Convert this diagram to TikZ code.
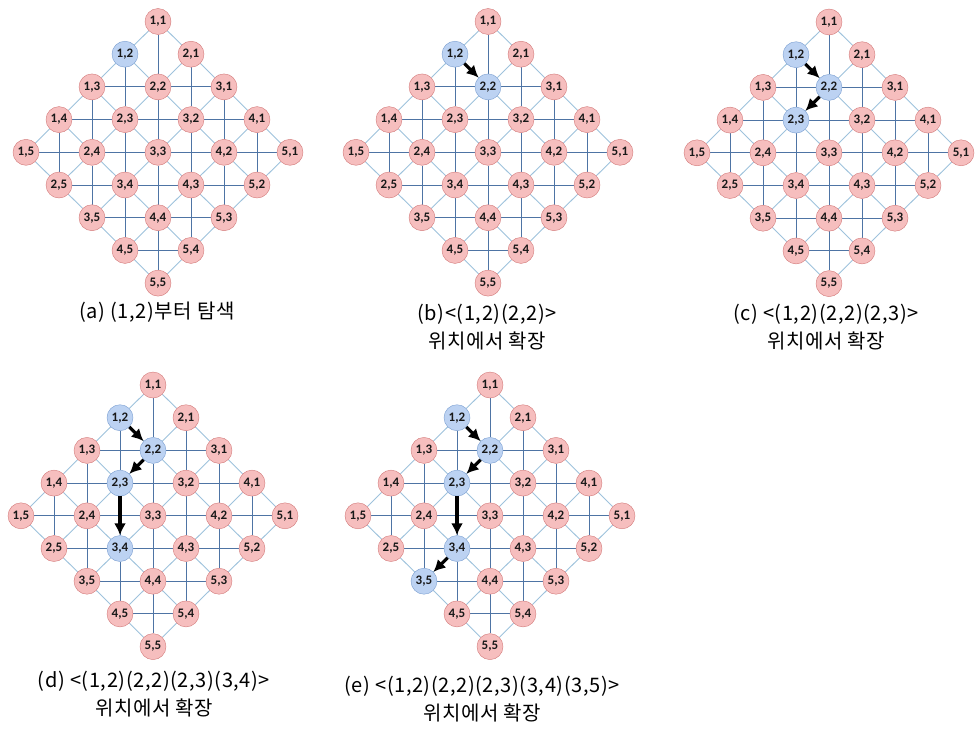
\documentclass[tikz,border=0pt]{standalone}
\usepackage{fontspec}
\setmainfont{Carlito}
\newfontfamily\korfont[LetterSpace=3]{Noto Sans CJK KR}
\usepackage{tikz}
\usetikzlibrary{arrows.meta,backgrounds}
\definecolor{cellpink}{RGB}{246,190,190}
\definecolor{cellrim}{RGB}{210,120,120}
\definecolor{seenblue}{RGB}{188,210,242}
\definecolor{seenrim}{RGB}{122,158,208}
\definecolor{gridlight}{RGB}{158,194,220}
\definecolor{griddark}{RGB}{78,116,164}
\tikzset{
  cell/.style={circle,draw=cellrim,fill=cellpink,minimum size=26pt,inner sep=0pt,
    font=\bfseries\fontsize{13}{13}\selectfont,text=black!90},
  visited/.style={draw=seenrim,fill=seenblue},
  diagedge/.style={draw=gridlight,line width=0.9pt},
  axisedge/.style={draw=griddark,line width=1pt},
  pathstep/.style={-{Latex[length=12pt,width=12pt]},line width=3.2pt,draw=black},
  caption/.style={font=\korfont\fontsize{20}{28}\selectfont,align=center}
}
% one 5x5 board turned by 45 degrees: prefix, centre x, top y
\newcommand{\diamondgrid}[3]{%
  \foreach \i in {1,...,5}{
    \foreach \j in {1,...,5}{
      \node[cell,visit #1\i\j/.try] (#1\i\j)
        at ({#2+(\i-\j)*33},{#3+(\i+\j-2)*32.7}) {\i,\j};
    }
  }
  \begin{pgfonlayer}{background}
    \foreach \i in {1,...,4}{
      \pgfmathtruncatemacro{\ni}{\i+1}
      \foreach \j in {1,...,5}{
        \draw[diagedge] (#1\i\j) -- (#1\ni\j);
        \draw[diagedge] (#1\j\i) -- (#1\j\ni);
      }
      \foreach \j in {1,...,4}{
        \pgfmathtruncatemacro{\nj}{\j+1}
        \draw[axisedge] (#1\i\j) -- (#1\ni\nj);
      }
      \foreach \j in {2,...,5}{
        \pgfmathtruncatemacro{\pj}{\j-1}
        \pgfmathtruncatemacro{\rowsum}{\i+\j}
        \ifnum\rowsum>3
          \draw[axisedge] (#1\i\j) -- (#1\ni\pj);
        \fi
      }
    }
  \end{pgfonlayer}
}

\begin{document}
\begin{tikzpicture}[x=1pt,y=-1pt]
  \useasboundingbox (0,0) rectangle (976,731);
  \tikzset{visit a12/.style=visited,
    visit b12/.style=visited, visit b22/.style=visited,
    visit c12/.style=visited, visit c22/.style=visited, visit c23/.style=visited,
    visit d12/.style=visited, visit d22/.style=visited, visit d23/.style=visited,
    visit d34/.style=visited,
    visit e12/.style=visited, visit e22/.style=visited, visit e23/.style=visited,
    visit e34/.style=visited, visit e35/.style=visited}

  \diamondgrid{a}{158}{21.5}
  \diamondgrid{b}{488}{21.5}
  \diamondgrid{c}{829}{22}
  \diamondgrid{d}{153}{385}
  \diamondgrid{e}{490}{385}

  % search paths
  \draw[pathstep] (b12) -- (b22);
  \draw[pathstep] (c12) -- (c22);
  \draw[pathstep] (c22) -- (c23);
  \draw[pathstep] (d12) -- (d22);
  \draw[pathstep] (d22) -- (d23);
  \draw[pathstep] (d23) -- (d34);
  \draw[pathstep] (e12) -- (e22);
  \draw[pathstep] (e22) -- (e23);
  \draw[pathstep] (e23) -- (e34);
  \draw[pathstep] (e34) -- (e35);

  \node[caption] (capa) at (157,312) {(a) (1,2)부터 탐색};
  \node[caption] (capb) at (487,327) {(b)<(1,2)(2,2)>\\위치에서 확장};
  \node[caption] (capc) at (826,327) {(c) <(1,2)(2,2)(2,3)>\\위치에서 확장};
  \node[caption] (capd) at (154,694) {(d) <(1,2)(2,2)(2,3)(3,4)>\\위치에서 확장};
  \node[caption] (cape) at (482,699) {(e) <(1,2)(2,2)(2,3)(3,4)(3,5)>\\위치에서 확장};
\end{tikzpicture}
\end{document}
